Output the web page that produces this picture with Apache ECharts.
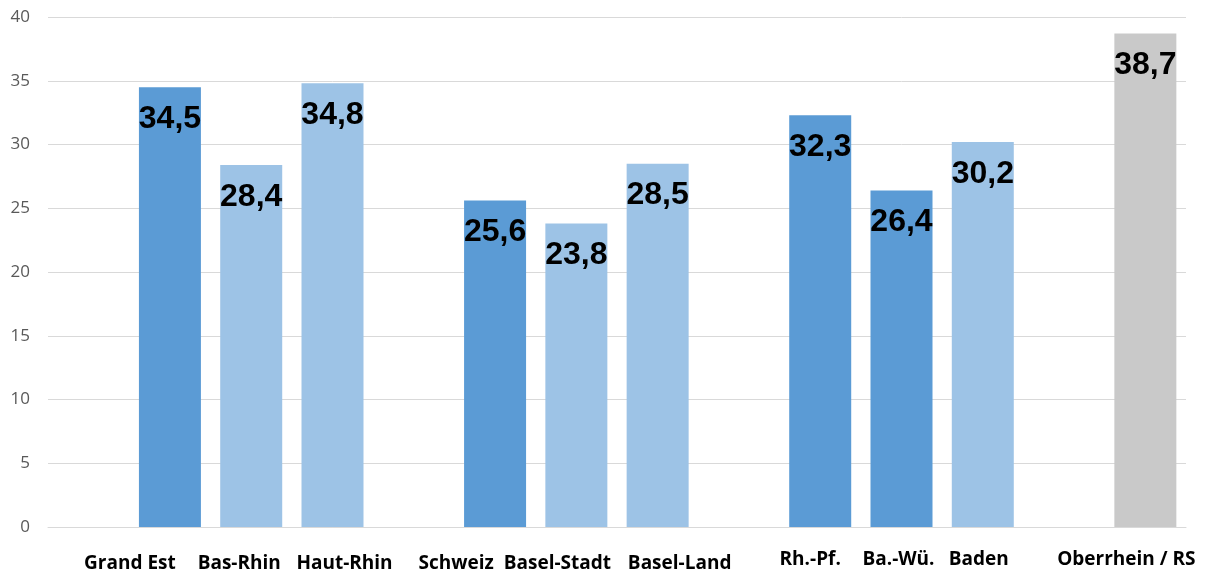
<!DOCTYPE html>
<html>
<head>
<meta charset="utf-8">
<script src="https://cdn.jsdelivr.net/npm/echarts@6/dist/echarts.min.js"></script>
<style>html,body{margin:0;padding:0;background:#fff}#c{width:1207px;height:573px}</style>
</head>
<body>
<div id="c"></div>
<script>
const categories = ['', 'Grand Est', 'Bas-Rhin', 'Haut-Rhin', '', 'Schweiz', 'Basel-Stadt', 'Basel-Land', '', 'Rh.-Pf.', 'Ba.-Wü.', 'Baden', '', 'Oberrhein / RS'];
const values = [null, 34.5, 28.4, 34.8, null, 25.6, 23.8, 28.5, null, 32.3, 26.4, 30.2, null, 38.7];
const tones = ['', 'dark', 'light', 'light', '', 'dark', 'light', 'light', '', 'dark', 'dark', 'light', '', 'gray'];
const yTicks = [0, 5, 10, 15, 20, 25, 30, 35, 40];

// layout (label nudges in px)
const labelDx = [0, -40, -12, 12, 0, -39, -19, 22, 0, -10, -3, -4, 0, -19];
const labelDy = [0, 4, 4, 4, 0, 4, 4, 4, 0, 0, 0, 0, 0, 0];
const toneColor = { dark: '#5b9bd5', light: '#9dc3e6', gray: '#c9c9c9' };

const rich = {};
categories.forEach((c, i) => {
  const dx = labelDx[i];
  rich['l' + i] = {
    fontFamily: 'Open Sans',
    fontWeight: 'bold',
    fontSize: 19,
    color: '#000',
    padding: [labelDy[i], dx < 0 ? -2 * dx : 0, 0, dx > 0 ? 2 * dx : 0]
  };
});

const chart = echarts.init(document.getElementById('c'));
chart.setOption({
  animation: false,
  grid: { left: 48, right: 21, top: 17, bottom: 44 },
  xAxis: {
    type: 'category',
    data: categories,
    axisLine: { lineStyle: { color: '#d9d9d9', width: 1 } },
    axisTick: { show: false },
    axisLabel: {
      interval: 0,
      margin: 23,
      formatter: (v, i) => v ? '{l' + i + '|' + v + '}' : '',
      rich: rich
    }
  },
  yAxis: {
    type: 'value',
    min: yTicks[0],
    max: yTicks[yTicks.length - 1],
    interval: 5,
    axisLine: { show: false },
    axisTick: { show: false },
    axisLabel: { color: '#595959', fontSize: 17, fontFamily: 'Open Sans', margin: 18 },
    splitLine: { lineStyle: { color: '#d9d9d9', width: 1 } }
  },
  series: [{
    type: 'bar',
    barWidth: 62,
    data: values.map((v, i) => v == null ? null : { value: v, itemStyle: { color: toneColor[tones[i]] } }),
    label: {
      show: true,
      position: 'insideTop',
      distance: 16,
      color: '#000',
      fontFamily: 'Liberation Sans',
      fontWeight: 'bold',
      fontSize: 32,
      formatter: p => String(p.value).replace('.', ',')
    }
  }]
});
</script>
</body>
</html>
